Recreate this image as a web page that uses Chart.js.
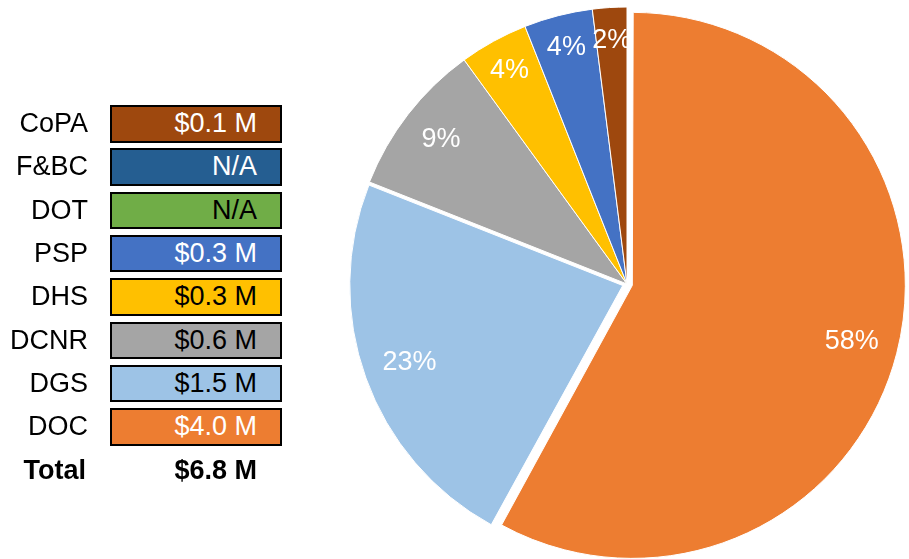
<!DOCTYPE html>
<html>
<head>
<meta charset="utf-8">
<script src="https://cdn.jsdelivr.net/npm/chart.js@4.4.1/dist/chart.umd.min.js"></script>
<style>
  html, body { margin: 0; padding: 0; background: #fff; }
  #wrap { position: relative; width: 909px; height: 559px; overflow: hidden; font-family: "Liberation Sans", Arial, sans-serif; }
  #pie { position: absolute; left: 0; top: 0; }
  .rowLabel { position: absolute; left: 0; width: 88px; text-align: right; font-size: 27px; color: #000; white-space: nowrap; }
  .box { position: absolute; left: 110px; width: 172px; box-sizing: border-box; border: 2px solid #000;
         text-align: right; padding-right: 23px; font-size: 27px; white-space: nowrap; }
  .total { font-weight: bold; }
</style>
</head>
<body>
<div id="wrap">
  <canvas id="pie" width="909" height="559"></canvas>
</div>
<script>
// Tabla de montos por dependencia (millones de dólares)
const tableNames = ['CoPA', 'F&BC', 'DOT', 'PSP', 'DHS', 'DCNR', 'DGS', 'DOC'];
const tableAmounts = [0.1, null, null, 0.3, 0.3, 0.6, 1.5, 4.0];
const tableColors = ['#9E480E', '#255E91', '#70AD47', '#4472C4', '#FFC000', '#A5A5A5', '#9DC3E6', '#ED7D31'];
const tableTextColors = ['#fff', '#fff', '#000', '#fff', '#000', '#000', '#000', '#fff'];
const totalAmount = 6.8;

// Pastel: porcentaje de cada dependencia, en el orden de las manecillas del reloj
const pieLabels = ['DOC', 'DGS', 'DCNR', 'DHS', 'PSP', 'CoPA'];
const pieShares = [58, 23, 9, 4, 4, 2];
const pieColors = ['#ED7D31', '#9DC3E6', '#A5A5A5', '#FFC000', '#4472C4', '#9E480E'];
const pieOffsets = [22, 18, 0, 0, 0, 0];

const fmt = v => v == null ? 'N/A' : '$' + v.toFixed(1) + ' M';

// Construye la tabla de la izquierda
const wrap = document.getElementById('wrap');
const rowTop = 105, rowStep = 43.33, boxH = 37.5;
tableNames.forEach((name, i) => {
    const top = rowTop + i * rowStep;
    const lab = document.createElement('div');
    lab.className = 'rowLabel';
    lab.style.top = top + 'px';
    lab.style.lineHeight = boxH + 'px';
    lab.textContent = name;
    wrap.appendChild(lab);

    const box = document.createElement('div');
    box.className = 'box';
    box.style.top = top + 'px';
    box.style.height = boxH + 'px';
    box.style.lineHeight = (boxH - 4) + 'px';
    box.style.background = tableColors[i];
    box.style.color = tableTextColors[i];
    box.textContent = fmt(tableAmounts[i]);
    wrap.appendChild(box);
});
// Fila del total
const totTop = rowTop + tableNames.length * rowStep;
const totLab = document.createElement('div');
totLab.className = 'rowLabel total';
totLab.style.top = totTop + 'px';
totLab.style.lineHeight = boxH + 'px';
totLab.style.width = '86px';
totLab.textContent = 'Total';
wrap.appendChild(totLab);
const totVal = document.createElement('div');
totVal.className = 'box total';
totVal.style.top = totTop + 'px';
totVal.style.height = boxH + 'px';
totVal.style.lineHeight = (boxH - 4) + 'px';
totVal.style.borderColor = 'transparent';
totVal.textContent = fmt(totalAmount);
wrap.appendChild(totVal);

// ArcElement agranda el radio de la rebanada separada en offset/4 * fix;
// aquí se compensa para que quede un poco más chica que el resto
const arcFix = c => 1 - Math.sin(Math.min(Math.PI, c));
const explodedRadius = {
    id: 'explodedRadius',
    beforeDatasetsDraw(chart) {
        chart.getDatasetMeta(0).data.forEach((arc, i) => {
            if (pieOffsets[i] > 0) {
                arc.outerRadius = chart.options.radius - 4 - pieOffsets[i] / 4 * arcFix(arc.circumference);
            }
        });
    }
};

// Etiquetas de porcentaje dentro de cada rebanada
const sliceLabels = {
    id: 'sliceLabels',
    afterDatasetsDraw(chart) {
        const ctx = chart.ctx;
        const meta = chart.getDatasetMeta(0);
        ctx.save();
        ctx.font = '27px "Liberation Sans", Arial, sans-serif';
        ctx.fillStyle = '#fff';
        ctx.textAlign = 'center';
        ctx.textBaseline = 'middle';
        meta.data.forEach((arc, i) => {
            const p = arc.getProps(['x', 'y', 'startAngle', 'endAngle', 'outerRadius', 'circumference'], true);
            const mid = (p.startAngle + p.endAngle) / 2;
            const shift = pieOffsets[i] / 4;
            const r = p.outerRadius + shift * arcFix(p.circumference);
            const frac = pieShares[i] >= 20 ? 0.83 : (pieShares[i] >= 5 ? 0.85 : 0.88);
            const dist = r * frac + shift;
            ctx.fillText(pieShares[i] + '%', p.x + Math.cos(mid) * dist, p.y + Math.sin(mid) * dist);
        });
        ctx.restore();
    }
};

new Chart(document.getElementById('pie'), {
    type: 'pie',
    data: {
        labels: pieLabels,
        datasets: [{
            data: pieShares,
            backgroundColor: pieColors,
            borderColor: '#fff',
            borderWidth: 1,
            offset: pieOffsets
        }]
    },
    options: {
        responsive: false,
        animation: false,
        radius: 277,
        layout: { padding: { left: 347, right: 2, top: 9, bottom: 0 } },
        plugins: {
            legend: { display: false },
            tooltip: { enabled: false }
        }
    },
    plugins: [explodedRadius, sliceLabels]
});
</script>
</body>
</html>
